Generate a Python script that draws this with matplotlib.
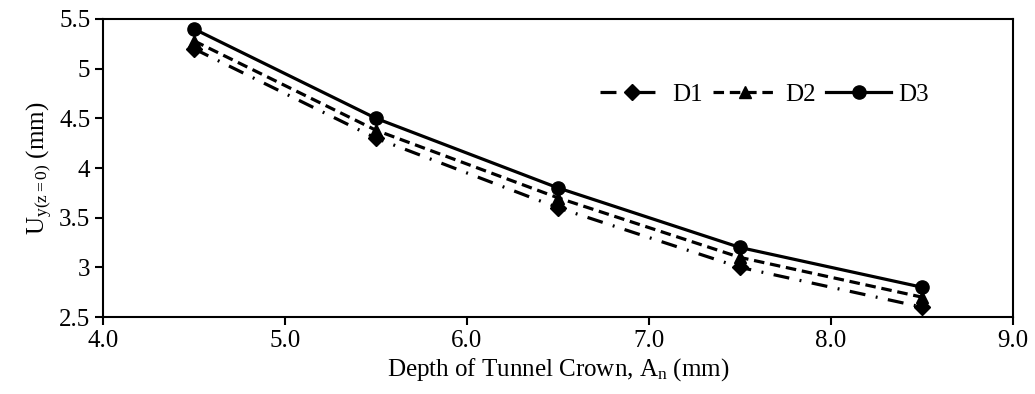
import matplotlib
matplotlib.use('Agg')
import matplotlib.pyplot as plt
from matplotlib.ticker import FormatStrFormatter, MultipleLocator

# data
depth = [4.5, 5.5, 6.5, 7.5, 8.5]   # depth of tunnel crown (mm)
d1 = [5.2, 4.3, 3.6, 3.0, 2.6]
d2 = [5.28, 4.38, 3.7, 3.1, 2.7]
d3 = [5.4, 4.5, 3.8, 3.2, 2.8]
series_names = ['D1', 'D2', 'D3']

plt.rcParams['font.family'] = ['Liberation Serif', 'DejaVu Serif']
plt.rcParams['mathtext.fontset'] = 'custom'
plt.rcParams['mathtext.rm'] = 'Liberation Serif'
plt.rcParams['mathtext.it'] = 'Liberation Serif:italic'
plt.rcParams['font.size'] = 18

fig = plt.figure(figsize=(10.35, 3.94), dpi=100)
ax = fig.add_axes([0.0995, 0.1954, 0.8792, 0.7564])

ax.plot(depth, d1, color='black', lw=2.3, linestyle=(0, (5, 3.3, 0.6, 3.3)),
        marker='D', markersize=8, label=series_names[0])
ax.plot(depth, d2, color='black', lw=2.3, linestyle=(0, (3.3, 1.8)),
        marker='^', markersize=9, label=series_names[1])
ax.plot(depth, d3, color='black', lw=2.3, linestyle='-',
        marker='o', markersize=9.5, label=series_names[2])

ax.set_xlim(4.0, 9.0)
ax.set_ylim(2.5, 5.5)
ax.xaxis.set_major_locator(MultipleLocator(1.0))
ax.yaxis.set_major_locator(MultipleLocator(0.5))
ax.xaxis.set_major_formatter(FormatStrFormatter('%.1f'))
ax.yaxis.set_major_formatter(FormatStrFormatter('%g'))
ax.tick_params(direction='out', length=6, width=1.5, color='black', pad=3)
for s in ax.spines.values():
    s.set_linewidth(1.5)

ax.set_xlabel(r'Depth of Tunnel Crown, A$_{\mathrm{n}}$ (mm)', labelpad=3)
ax.set_ylabel(r'U$_{\mathrm{y(z{=}0)}}$ (mm)', labelpad=4)

ax.legend(loc='center', bbox_to_anchor=(0.727, 0.745), ncol=3, frameon=False,
          handlelength=2.6, handletextpad=0.3, columnspacing=0.4)

fig.savefig('out.png', dpi=100)
